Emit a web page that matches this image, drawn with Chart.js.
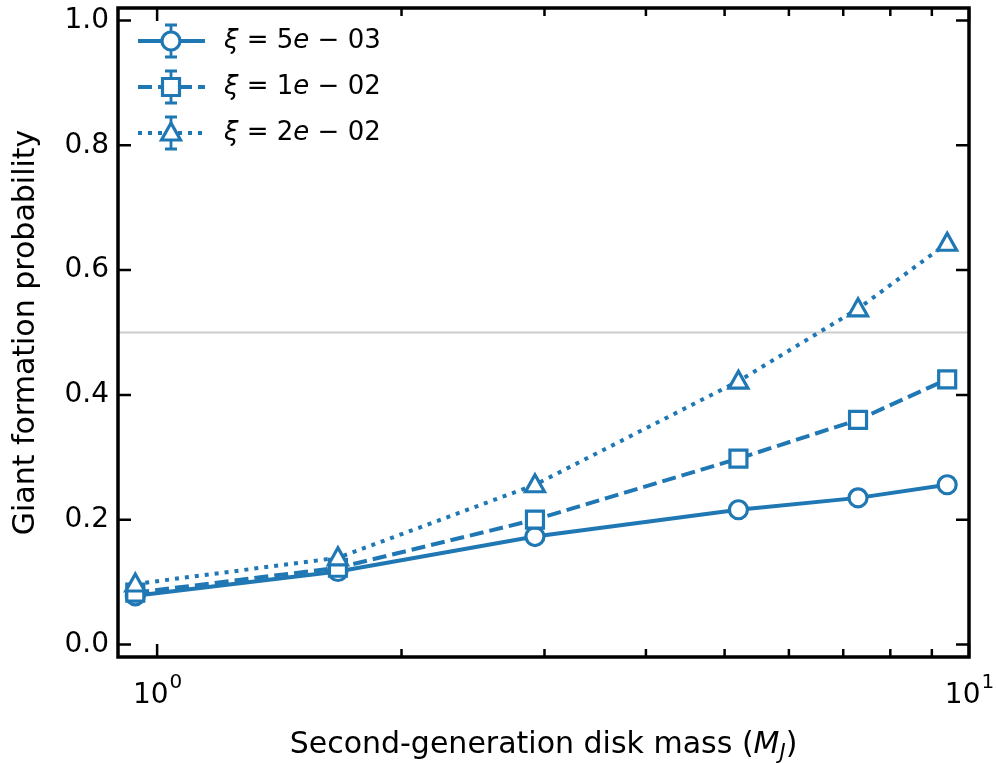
<!DOCTYPE html>
<html>
<head>
<meta charset="utf-8">
<script src="https://cdn.jsdelivr.net/npm/chart.js@4"></script>
<style>
  html, body { margin: 0; padding: 0; background: #fff; }
  #wrap { width: 996px; height: 763px; }
</style>
</head>
<body>
<div id="wrap"><canvas id="chart" width="996" height="763"></canvas></div>
<script>
// Data
const diskMass = [0.94, 1.67, 2.92, 5.2, 7.3, 9.4];
const probXi5e3 = [0.078, 0.117, 0.173, 0.216, 0.235, 0.256];
const probXi1e2 = [0.083, 0.123, 0.200, 0.298, 0.360, 0.425];
const probXi2e2 = [0.097, 0.139, 0.256, 0.422, 0.538, 0.643];
const seriesLabels = ['5e \u2212 03', '1e \u2212 02', '2e \u2212 02'];
const yTicks = [0.0, 0.2, 0.4, 0.6, 0.8, 1.0];
const xMajor = [1, 10];
const xMinor = [2, 3, 4, 5, 6, 7, 8, 9];

const BLUE = '#1f77b4';
const FONT = '"DejaVu Sans", sans-serif';

function pts(ys) { return diskMass.map((x, i) => ({ x: x, y: ys[i] })); }

const styles = [
  { dash: [], shape: 'circle' },
  { dash: [14, 6], shape: 'rect' },
  { dash: [4, 6], shape: 'triangle' }
];

function drawMarker(ctx, shape, x, y) {
  ctx.save();
  ctx.setLineDash([]);
  ctx.fillStyle = '#fff';
  ctx.strokeStyle = BLUE;
  ctx.lineWidth = 3.2;
  ctx.beginPath();
  if (shape === 'circle') ctx.arc(x, y, 9, 0, Math.PI * 2);
  else if (shape === 'rect') ctx.rect(x - 8.5, y - 8.5, 17, 17);
  else { ctx.moveTo(x, y - 10); ctx.lineTo(x + 9.5, y + 7); ctx.lineTo(x - 9.5, y + 7); ctx.closePath(); }
  ctx.fill();
  ctx.stroke();
  ctx.restore();
}

const axesPlugin = {
  id: 'axesPlugin',
  beforeDatasetsDraw(chart) {
    const { ctx, chartArea: a, scales } = chart;
    const y = scales.y.getPixelForValue(0.5);
    ctx.save();
    ctx.strokeStyle = '#cccccc';
    ctx.lineWidth = 2;
    ctx.beginPath(); ctx.moveTo(a.left, y); ctx.lineTo(a.right, y); ctx.stroke();
    ctx.restore();
  },
  afterDatasetsDraw(chart) {
    const { ctx, chartArea: a, scales } = chart;
    const sx = scales.x, sy = scales.y;
    ctx.save();
    chart.data.datasets.forEach((ds, i) => {
      ds.data.forEach(p => drawMarker(ctx, styles[i].shape, sx.getPixelForValue(p.x), sy.getPixelForValue(p.y)));
    });
    // frame
    ctx.strokeStyle = '#000';
    ctx.lineWidth = 3.5;
    ctx.strokeRect(a.left, a.top, a.right - a.left, a.bottom - a.top);
    // inward ticks
    ctx.lineWidth = 2.5;
    ctx.beginPath();
    xMajor.forEach(v => {
      const px = sx.getPixelForValue(v);
      ctx.moveTo(px, a.bottom); ctx.lineTo(px, a.bottom - 13);
      ctx.moveTo(px, a.top); ctx.lineTo(px, a.top + 13);
    });
    xMinor.forEach(v => {
      const px = sx.getPixelForValue(v);
      ctx.moveTo(px, a.bottom); ctx.lineTo(px, a.bottom - 8);
      ctx.moveTo(px, a.top); ctx.lineTo(px, a.top + 8);
    });
    yTicks.forEach(v => {
      const py = sy.getPixelForValue(v);
      ctx.moveTo(a.left, py); ctx.lineTo(a.left + 13, py);
      ctx.moveTo(a.right, py); ctx.lineTo(a.right - 13, py);
    });
    ctx.stroke();
    // y tick labels
    ctx.fillStyle = '#000';
    ctx.font = '28px ' + FONT;
    ctx.textAlign = 'right';
    ctx.textBaseline = 'middle';
    yTicks.forEach(v => ctx.fillText(v.toFixed(1), a.left - 9, sy.getPixelForValue(v)));
    // x tick labels 10^n
    xMajor.forEach(v => {
      const px = sx.getPixelForValue(v);
      const exp = String(Math.round(Math.log10(v)));
      ctx.font = '28px ' + FONT;
      const w1 = ctx.measureText('10').width;
      ctx.font = '20px ' + FONT;
      const w2 = ctx.measureText(exp).width;
      const x0 = px - (w1 + w2) / 2;
      ctx.textAlign = 'left';
      ctx.textBaseline = 'alphabetic';
      ctx.font = '28px ' + FONT;
      ctx.fillText('10', x0, a.bottom + 46);
      ctx.font = '20px ' + FONT;
      ctx.fillText(exp, x0 + w1 + 1, a.bottom + 31);
    });
    // axis titles
    const t1 = 'Second-generation disk mass (';
    ctx.font = '30px ' + FONT;
    const w1 = ctx.measureText(t1).width;
    ctx.font = 'italic 30px ' + FONT;
    const wm = ctx.measureText('M').width;
    ctx.font = 'italic 21px ' + FONT;
    const wj = ctx.measureText('J').width;
    ctx.font = '30px ' + FONT;
    const wp = ctx.measureText(')').width;
    let tx = (a.left + a.right) / 2 - (w1 + wm + wj + wp) / 2;
    const ty = 753;
    ctx.textAlign = 'left';
    ctx.fillText(t1, tx, ty); tx += w1;
    ctx.font = 'italic 30px ' + FONT; ctx.fillText('M', tx, ty); tx += wm;
    ctx.font = 'italic 21px ' + FONT; ctx.fillText('J', tx, ty + 6); tx += wj;
    ctx.font = '30px ' + FONT; ctx.fillText(')', tx, ty);
    ctx.save();
    ctx.translate(34, (a.top + a.bottom) / 2);
    ctx.rotate(-Math.PI / 2);
    ctx.textAlign = 'center';
    ctx.fillText('Giant formation probability', 0, 0);
    ctx.restore();
    // legend
    seriesLabels.forEach((lab, i) => {
      const ly = 41 + i * 46;
      ctx.save();
      ctx.strokeStyle = BLUE;
      ctx.lineWidth = 4;
      ctx.setLineDash(styles[i].dash);
      ctx.beginPath(); ctx.moveTo(138, ly); ctx.lineTo(205, ly); ctx.stroke();
      ctx.setLineDash([]);
      ctx.lineWidth = 2.8;
      ctx.beginPath();
      ctx.moveTo(171, ly - 16); ctx.lineTo(171, ly + 16);
      ctx.moveTo(165, ly - 16); ctx.lineTo(177, ly - 16);
      ctx.moveTo(165, ly + 16); ctx.lineTo(177, ly + 16);
      ctx.stroke();
      ctx.restore();
      drawMarker(ctx, styles[i].shape, 171, ly);
      ctx.fillStyle = '#000';
      ctx.textAlign = 'left';
      ctx.textBaseline = 'middle';
      let lx = 224;
      ctx.font = 'italic 26px ' + FONT;
      ctx.fillText('\u03be', lx, ly); lx += ctx.measureText('\u03be').width;
      ctx.font = '26px ' + FONT;
      ctx.fillText(' = ', lx, ly); lx += ctx.measureText(' = ').width;
      const parts = lab.split('e');
      ctx.fillText(parts[0], lx, ly); lx += ctx.measureText(parts[0]).width;
      ctx.font = 'italic 26px ' + FONT;
      ctx.fillText('e', lx, ly); lx += ctx.measureText('e').width;
      ctx.font = '26px ' + FONT;
      ctx.fillText(parts[1], lx, ly);
    });
    ctx.restore();
  }
};

new Chart(document.getElementById('chart'), {
  type: 'line',
  data: {
    datasets: [probXi5e3, probXi1e2, probXi2e2].map((ys, i) => ({
      label: seriesLabels[i],
      data: pts(ys),
      borderColor: BLUE,
      borderWidth: 4,
      borderDash: styles[i].dash,
      pointRadius: 0,
      fill: false,
      tension: 0
    }))
  },
  options: {
    responsive: false,
    animation: false,
    layout: { padding: { top: 8, right: 27, left: 0, bottom: 0 } },
    plugins: { legend: { display: false }, tooltip: { enabled: false } },
    scales: {
      x: {
        type: 'logarithmic', min: 0.895, max: 10,
        ticks: { display: false }, grid: { display: false }, border: { display: false },
        afterFit(s) { s.height = 106; }
      },
      y: {
        min: -0.02, max: 1.02,
        ticks: { display: false }, grid: { display: false }, border: { display: false },
        afterFit(s) { s.width = 118; }
      }
    }
  },
  plugins: [axesPlugin]
});
</script>
</body>
</html>
